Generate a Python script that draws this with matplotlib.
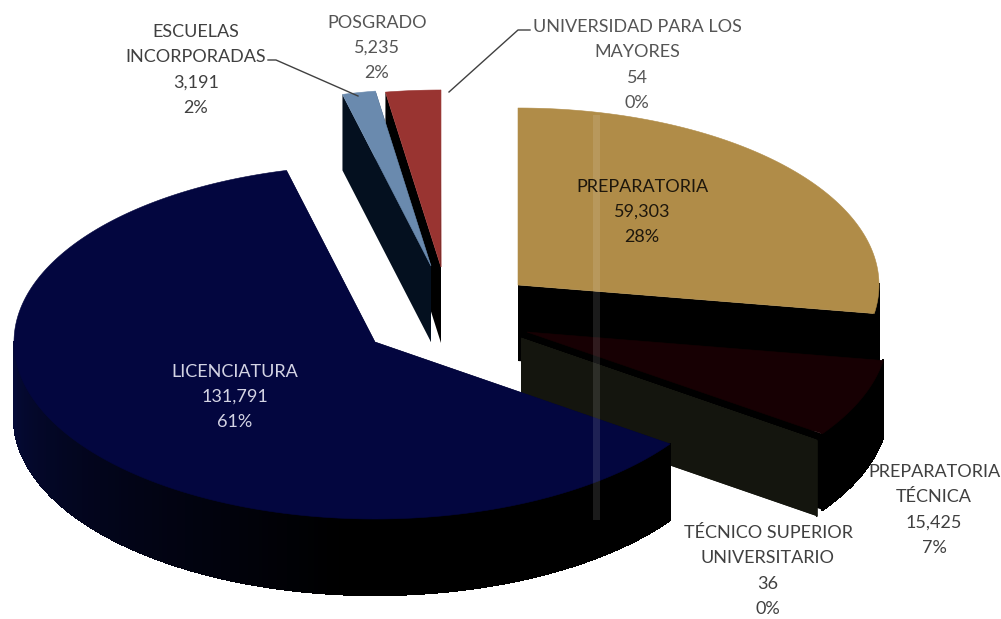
import numpy as np
import matplotlib
matplotlib.use('Agg')
import matplotlib.pyplot as plt
from matplotlib.collections import PolyCollection
from matplotlib.patches import Polygon, Rectangle

categorias = ['PREPARATORIA', 'PREPARATORIA\nTÉCNICA', 'TÉCNICO SUPERIOR\nUNIVERSITARIO',
              'LICENCIATURA', 'ESCUELAS\nINCORPORADAS', 'POSGRADO', 'UNIVERSIDAD PARA LOS\nMAYORES']
valores = [59303, 15425, 36, 131791, 3191, 5235, 54]
porcentajes = ['28%', '7%', '0%', '61%', '2%', '2%', '0%']

colores_top = ['#b08c48', '#170003', '#14150e', '#03063f', '#6a8aae', '#993431', '#993431']
colores_cara = ['#000000', '#000000', '#14150e', '#020318', '#04101f', '#000000', '#000000']

# centre of each exploded slice, in pixels
centros = [(518, 285), (527, 332), (521, 338), (375, 342), (431, 266), (441, 267), (441, 267)]
RX, RY, PROF = 361, 177, 76

# label anchor x, y and colour
pos_texto = [(642, 212, '#1e170c'), (934, 510, '#404040'), (768, 571, '#404040'), (235, 397, '#d4d4e4'),
             (196, 70, '#404040'), (377, 48, '#555555'), (637, 65, '#555555')]
orden = [5, 6, 4, 0, 1, 2, 3]

total = sum(valores)
fin = np.cumsum(valores) / total * 360
inicio = fin - np.array(valores) / total * 360


def punto(c, ang):
    a = np.radians(ang)
    return c[0] + RX * np.sin(a), c[1] - RY * np.cos(a)


def color_lado(i, ang):
    if i != 3:
        return colores_cara[i]
    f = np.interp(ang, [126, 185, 235, 270], [0, 0, 0.55, 1])
    return (0.02 * f, 0.04 * f, 0.22 * f)


fig = plt.figure(figsize=(10.01, 6.19), dpi=100)
ax = fig.add_axes([0, 0, 1, 1])
ax.set_xlim(0, 1001)
ax.set_ylim(619, 0)
ax.axis('off')

for z, i in enumerate(orden):
    c = centros[i]
    a0, a1 = inicio[i], fin[i]
    angs = np.linspace(a0, a1, max(int((a1 - a0) * 2), 2))
    arco = [punto(c, a) for a in angs]
    # cut faces
    for a in (a1, a0):
        p = punto(c, a)
        cara = [c, p, (p[0], p[1] + PROF), (c[0], c[1] + PROF)]
        ax.add_patch(Polygon(cara, closed=True, fc=colores_cara[i], ec='none', zorder=z * 3))
    # outer rim, only the part facing the viewer
    tiras = []
    cols = []
    for a, b in zip(angs[:-1], angs[1:]):
        if 90 <= b and a <= 270:
            p, q = punto(c, a), punto(c, b)
            tiras.append([p, q, (q[0], q[1] + PROF), (p[0], p[1] + PROF)])
            cols.append(color_lado(i, a))
    if tiras:
        ax.add_collection(PolyCollection(tiras, facecolors=cols, edgecolors=cols, linewidths=1,
                                         antialiaseds=False, zorder=z * 3 + 1))
    ax.add_patch(Polygon([c] + arco, closed=True, fc=colores_top[i], ec=colores_top[i], lw=0.4, zorder=z * 3 + 2))

# scanner streak
ax.add_patch(Rectangle((593, 115), 7, 405, fc='white', ec='none', alpha=0.11, zorder=40))

ax.plot([268, 276, 358], [60, 60, 96], color='#404040', lw=1, zorder=41)
ax.plot([530, 518, 449], [30, 30, 92], color='#404040', lw=1, zorder=41)

for i, nombre in enumerate(categorias):
    x, y, col = pos_texto[i]
    txt = f'{nombre}\n{valores[i]:,}\n{porcentajes[i]}'
    ax.text(x, y, txt, ha='center', va='center', ma='center', color=col, fontsize=13,
            family='Lato', linespacing=1.72, zorder=50)

fig.savefig('out.png', dpi=100, facecolor='white')
